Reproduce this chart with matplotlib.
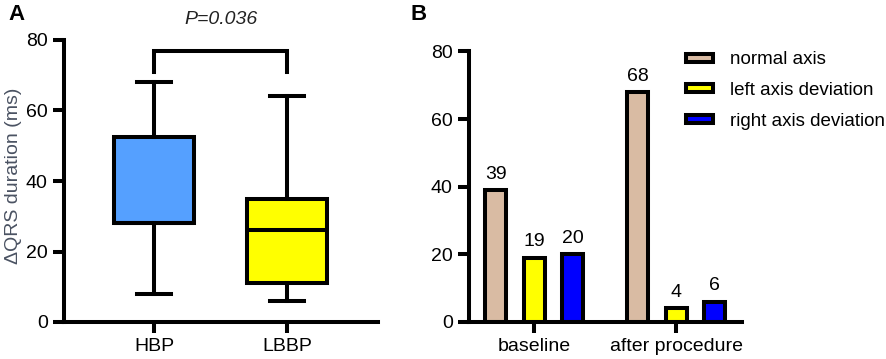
import matplotlib
matplotlib.use("Agg")
import matplotlib.pyplot as plt
from matplotlib.patches import Patch

plt.rcParams['font.family'] = ['Liberation Sans', 'DejaVu Sans']

# ---- Panel A data ----
groups = ["HBP", "LBBP"]
whisker_low = [8, 6]
q1 = [28, 11]
median = [28, 26]
q3 = [52.5, 35]
whisker_high = [68, 64]
box_colors = ["#55A0FF", "#FFFF00"]
p_text = "P=0.036"
bracket_y = [71, 77]

# ---- Panel B data ----
timepoints = ["baseline", "after procedure"]
series_names = ["normal axis", "left axis deviation", "right axis deviation"]
normal_axis = [39, 68]
left_dev = [19, 4]
right_dev = [20, 6]
bar_colors = ["#D9BBA3", "#FFFF00", "#0000FF"]

LW = 2.9
FS = 14

fig = plt.figure(figsize=(8.86, 3.59), dpi=100)

# ---------- Panel A ----------
axA = fig.add_axes([64/886, 37/359, (378-64)/886, 282/359])
stats = []
for i, g in enumerate(groups):
    stats.append(dict(label=g, whislo=whisker_low[i], q1=q1[i], med=median[i],
                      q3=q3[i], whishi=whisker_high[i], fliers=[]))
bp = axA.bxp(stats, positions=[1, 2], widths=0.60, capwidths=0.26,
             showfliers=False, patch_artist=True,
             boxprops=dict(linewidth=LW, edgecolor='black'),
             whiskerprops=dict(linewidth=LW, color='black'),
             capprops=dict(linewidth=LW, color='black'),
             medianprops=dict(linewidth=LW, color='black'))
for patch, c in zip(bp['boxes'], box_colors):
    patch.set_facecolor(c)
axA.set_xlim(0.323, 2.684)
axA.set_ylim(0, 80)
axA.set_yticks([0, 20, 40, 60, 80])
axA.set_xticks([1, 2])
axA.set_xticklabels(groups)
axA.spines['top'].set_visible(False)
axA.spines['right'].set_visible(False)
for s in ['left', 'bottom']:
    axA.spines[s].set_linewidth(LW)
axA.tick_params(width=LW, length=7.7, labelsize=FS, pad=4)
axA.set_ylabel("ΔQRS duration (ms)", fontsize=FS, color='#4a5262')
axA.yaxis.set_label_coords(-0.134, 0.52)
# significance bracket
axA.plot([1, 1, 2, 2], [bracket_y[0], bracket_y[1], bracket_y[1], bracket_y[0]],
         color='black', lw=LW, clip_on=False, solid_joinstyle='miter')
axA.text(1.5, 1 - 20/359, p_text, transform=axA.get_xaxis_transform() + 0 if False else
         matplotlib.transforms.blended_transform_factory(axA.transData, fig.transFigure),
         ha='center', va='center', fontsize=FS, style='italic', color='#222222')
fig.text(8/886, 1-15/359, "A", fontsize=16, fontweight='bold', va='center', ha='left')

# ---------- Panel B ----------
axB = fig.add_axes([469/886, 37/359, (742-469)/886, 270.6/359])
group_pos = [0, 3.71]
offsets = [-1, 0, 1]
bw = 0.55
all_series = [normal_axis, left_dev, right_dev]
for k, (vals, col) in enumerate(zip(all_series, bar_colors)):
    xs = [g + offsets[k] for g in group_pos]
    axB.bar(xs, vals, width=bw, color=col, edgecolor='black', linewidth=LW)
    for x, v in zip(xs, vals):
        axB.text(x, v + 2.2, str(v), ha='center', va='bottom', fontsize=FS)
axB.set_xlim(-1.70, 5.43)
axB.set_ylim(0, 80)
axB.set_yticks([0, 20, 40, 60, 80])
axB.set_xticks(group_pos)
axB.set_xticklabels(timepoints)
axB.spines['top'].set_visible(False)
axB.spines['right'].set_visible(False)
for s in ['left', 'bottom']:
    axB.spines[s].set_linewidth(LW)
axB.tick_params(width=LW, length=7.7, labelsize=FS, pad=4)
fig.text(410/886, 1-15/359, "B", fontsize=16, fontweight='bold', va='center', ha='left')

handles = [Patch(facecolor=c, edgecolor='black', linewidth=LW) for c in bar_colors]
fig.legend(handles, series_names, loc='upper left',
           bbox_to_anchor=(678/886, 1-44/359), frameon=False,
           fontsize=13.5, handlelength=1.45, handleheight=0.3,
           handletextpad=0.9, labelspacing=0.72, borderaxespad=0)

fig.savefig("out.png", dpi=100)
